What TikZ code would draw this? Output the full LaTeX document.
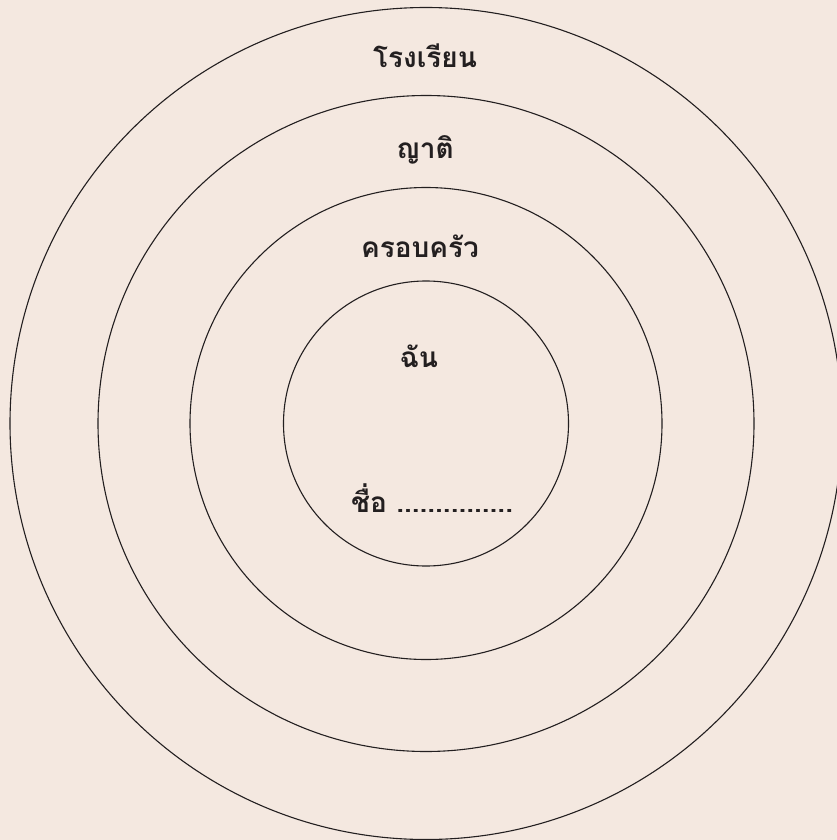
\documentclass[tikz,border=0pt]{standalone}
\usepackage{fontspec}
\newfontfamily\thaifont[Script=Thai]{Loma}
\usepackage{tikz}
\definecolor{paper}{HTML}{F4E8E0}
\definecolor{ink}{HTML}{231F20}

\begin{document}
\begin{tikzpicture}[x=1pt, y=-1pt,
    ring/.style={line width=1.1pt, draw=ink},
    label/.style={font=\thaifont\bfseries\fontsize{28}{32}\selectfont, text=ink}]
  \fill[paper] (0,0) rectangle (837,840);
  \useasboundingbox (0,0) rectangle (837,840);
  \coordinate (C) at (426,423.5);

  \draw[ring] (C) circle[radius=416];
  \draw[ring] (C) circle[radius=328];
  \draw[ring] (C) circle[radius=236];
  \draw[ring] (C) circle[radius=142.5];

  \node[label] (school) at (425,56) {โรงเรียน};
  \node[label] (kin) at (425,150) {ญาติ};
  \node[label] (family) at (420,246) {ครอบครัว};
  \node[label] (me) at (419,356) {ฉัน};
  \node[label] (name) at (432,498) {ชื่อ ...............};
\end{tikzpicture}
\end{document}
